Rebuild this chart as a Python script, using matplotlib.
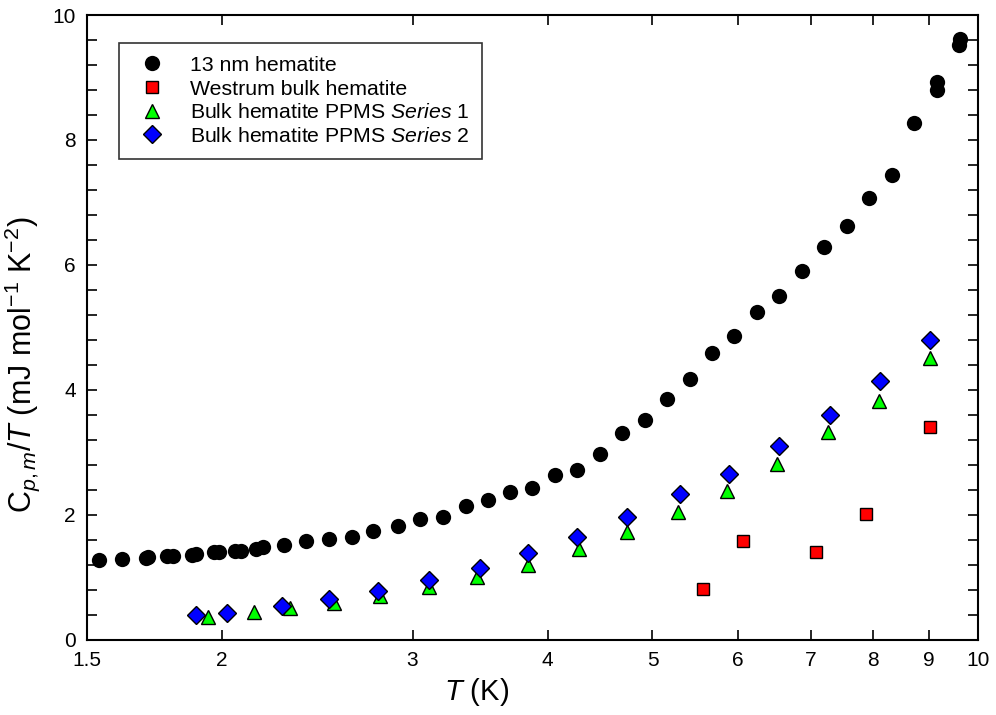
#!/usr/bin/env python3
import matplotlib
matplotlib.use("Agg")
import matplotlib.pyplot as plt
from matplotlib.ticker import FixedLocator, MultipleLocator, NullLocator

plt.rcParams["font.family"] = ["Liberation Sans", "DejaVu Sans"]
plt.rcParams["mathtext.fontset"] = "custom"
plt.rcParams["mathtext.rm"] = "Liberation Sans"
plt.rcParams["mathtext.it"] = "Liberation Sans:italic"

# 13 nm hematite
nano_T = [1.54, 1.615, 1.70, 1.71, 1.78, 1.80, 1.875, 1.89, 1.965, 1.985, 2.055, 2.08,
          2.15, 2.18, 2.28, 2.39, 2.51, 2.64, 2.76, 2.91, 3.05, 3.20, 3.36, 3.52, 3.69,
          3.87, 4.06, 4.26, 4.47, 4.69, 4.92, 5.16, 5.42, 5.67, 5.95, 6.25, 6.55, 6.88,
          7.20, 7.56, 7.92, 8.32, 8.73, 9.16, 9.16, 9.62, 9.61]
nano_C = [1.28, 1.29, 1.31, 1.33, 1.34, 1.35, 1.36, 1.37, 1.41, 1.41, 1.42, 1.43,
          1.46, 1.49, 1.52, 1.59, 1.62, 1.65, 1.75, 1.83, 1.93, 1.96, 2.15, 2.24, 2.36,
          2.43, 2.64, 2.72, 2.98, 3.31, 3.52, 3.85, 4.17, 4.59, 4.86, 5.25, 5.51, 5.90,
          6.28, 6.62, 7.07, 7.44, 8.27, 8.93, 8.80, 9.62, 9.52]

# Westrum bulk hematite
westrum_T = [5.57, 6.06, 7.08, 7.88, 9.02]
westrum_C = [0.82, 1.58, 1.41, 2.02, 3.40]

# Bulk hematite PPMS Series 1
s1_T = [1.94, 2.14, 2.31, 2.54, 2.80, 3.11, 3.44, 3.84, 4.28, 4.74, 5.28, 5.86, 6.52,
        7.27, 8.09, 9.02]
s1_C = [0.37, 0.45, 0.51, 0.59, 0.70, 0.84, 1.01, 1.20, 1.45, 1.73, 2.04, 2.38, 2.82,
        3.32, 3.83, 4.51]

# Bulk hematite PPMS Series 2
s2_T = [1.89, 2.02, 2.27, 2.51, 2.79, 3.11, 3.46, 3.84, 4.26, 4.74, 5.30, 5.89, 6.55,
        7.30, 8.11, 9.03]
s2_C = [0.40, 0.43, 0.55, 0.66, 0.79, 0.96, 1.15, 1.39, 1.64, 1.96, 2.33, 2.65, 3.11,
        3.60, 4.14, 4.80]

x_ticks = [1.5, 2, 3, 4, 5, 6, 7, 8, 9, 10]
x_tick_labels = ["1.5", "2", "3", "4", "5", "6", "7", "8", "9", "10"]

fig = plt.figure(figsize=(9.96, 7.15), dpi=100)
ax = fig.add_axes([0.0873, 0.105, 0.8947, 0.874])

ax.plot(nano_T, nano_C, "o", color="black", markersize=11, markeredgewidth=0,
        label="13 nm hematite", zorder=3)
ax.plot(westrum_T, westrum_C, "s", color="#ff0000", markeredgecolor="black",
        markeredgewidth=1, markersize=9, label="Westrum bulk hematite", zorder=3)
ax.plot(s1_T, s1_C, "^", color="#00ff00", markeredgecolor="black",
        markeredgewidth=1, markersize=10, label="Bulk hematite PPMS $\\it{Series}$ 1", zorder=3)
ax.plot(s2_T, s2_C, "D", color="#0000ff", markeredgecolor="black",
        markeredgewidth=1, markersize=9, label="Bulk hematite PPMS $\\it{Series}$ 2", zorder=4)

ax.set_xscale("log")
ax.set_xlim(1.5, 10)
ax.set_ylim(0, 10)
ax.xaxis.set_major_locator(FixedLocator(x_ticks))
ax.set_xticklabels(x_tick_labels)
ax.xaxis.set_minor_locator(NullLocator())
ax.yaxis.set_major_locator(MultipleLocator(2))
ax.yaxis.set_minor_locator(MultipleLocator(0.4))

ax.tick_params(which="both", direction="in", top=True, right=True, width=1.2, labelsize=15)
ax.tick_params(which="major", length=7, pad=8)
ax.tick_params(which="minor", length=7)
for s in ax.spines.values():
    s.set_linewidth(1.5)

ax.set_xlabel("$T$ (K)", fontsize=21)
ax.xaxis.set_label_coords(0.437, -0.058)
ax.set_ylabel("C$_{p,m}$/$T$ (mJ mol$^{-1}$ K$^{-2}$)", fontsize=22)
ax.yaxis.set_label_coords(-0.05, 0.44)

leg = ax.legend(loc="upper left", bbox_to_anchor=(0.036, 0.955), fontsize=15.3,
                frameon=True, fancybox=False, edgecolor="black", borderpad=0.6,
                handletextpad=0.84, handlelength=1.9, labelspacing=0.22, borderaxespad=0)
leg.get_frame().set_linewidth(1.2)

fig.savefig("out.png", dpi=100)
